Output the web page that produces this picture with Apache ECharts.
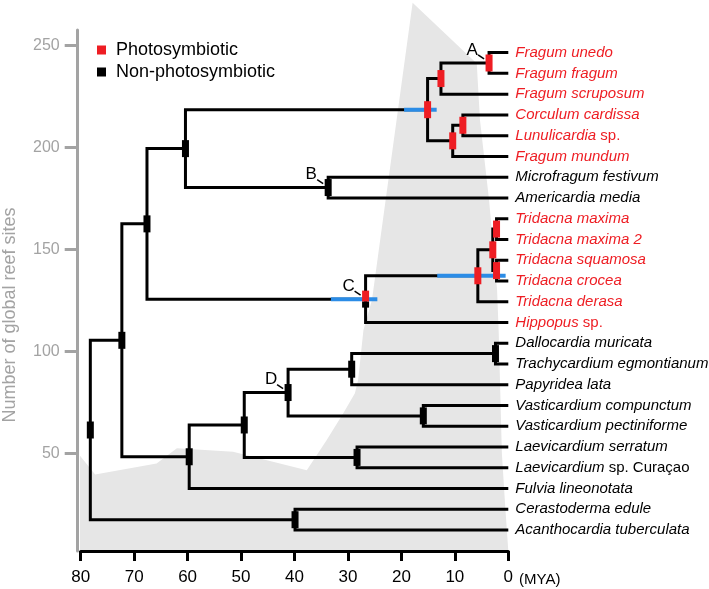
<!DOCTYPE html>
<html><head><meta charset="utf-8">
<script src="https://cdn.jsdelivr.net/npm/echarts@6/dist/echarts.min.js"></script>
<style>html,body{margin:0;padding:0;background:#fff}#c{width:709px;height:589px}</style>
</head><body><div id="c"></div>
<script>
// ---------- data ----------
const tipNames = ['Fragum unedo','Fragum fragum','Fragum scruposum','Corculum cardissa','Lunulicardia','Fragum mundum',
  'Microfragum festivum','Americardia media','Tridacna maxima','Tridacna maxima 2','Tridacna squamosa','Tridacna crocea',
  'Tridacna derasa','Hippopus','Dallocardia muricata','Trachycardium egmontianum','Papyridea lata','Vasticardium compunctum',
  'Vasticardium pectiniforme','Laevicardium serratum','Laevicardium','Fulvia lineonotata','Cerastoderma edule','Acanthocardia tuberculata'];
const tipQualifiers = ['','','','',' sp.','','','','','','','','',' sp.','','','','','','',' sp. Curaçao','','',''];
const tipPhotosymbiotic = [1,1,1,1,1,1,0,0,1,1,1,1,1,1,0,0,0,0,0,0,0,0,0,0];

const nodeIds    = ['root','N1','N2','N3','F','F1','A','F2','F3','B','C','T','T1','T2','T3','Nf','N49','D','D1','D2','V','L','E'];
const nodeAges   = [78.2, 72.3, 67.6, 60.4, 15.1, 12.6, 3.6, 10.4, 8.5, 33.7, 26.7, 5.7, 2.9, 2.2, 2.2, 59.7, 49.4, 41.2, 29.3, 2.4, 15.9, 28.3, 39.9];
const nodeChildA = ['N1','N2','N3','F','F1','A',0,'F3',3,6,'T','T1','T2',8,10,'N49','D','D1','D2',14,17,19,22];
const nodeChildB = ['E','Nf','C','B','F2',2,1,5,4,7,13,12,'T3',9,11,21,'L','V',16,15,18,20,23];
const nodePhotosymbiotic = [0,0,0,0,1,1,1,1,1,0,0.65,1,1,1,1,0,0,0,0,0,0,0,0];

const ciNodes = ['F','C','T'];
const ciOldest = [19.5, 33.2, 13.3];
const ciYoungest = [13.4, 24.5, 0.5];

const letterNodes = ['A','B','C','D'];

const reefAge   = [80.5, 77.3, 65.8, 62.0, 51.5, 37.7, 34.0, 30.9, 28.7, 28.1, 27.1, 26.2, 25.5, 20.9, 17.9, 5.9, 5.3, 3.6, 2.1, 1.8, 1.5, 1.2, 0.6, 0];
const reefSites = [50, 39.7, 45.1, 52.5, 50.8, 41.8, 56.5, 69.6, 79.5, 85.9, 110.4, 118.6, 125.3, 213.3, 270.7, 241.0, 213.3, 174.1, 130.0, 110.0, 80, 50, 25, 2.2];

const xTicks = [80,70,60,50,40,30,20,10,0];
const yTicks = [50,100,150,200,250];

// ---------- styles ----------
const FONT = 'Liberation Sans, Arial, Helvetica, sans-serif';
const RED = '#ee1d23', BLUE = '#2b8ce6', GRAYAXIS = '#a3a3a3', AREA = '#e6e6e6';

// ---------- tree layout ----------
const nodeY = {};
function childY(c){ return typeof c === 'number' ? c : layout(c); }
function childAge(c){ return typeof c === 'number' ? 0 : nodeAges[nodeIds.indexOf(c)]; }
function layout(id){
  const i = nodeIds.indexOf(id);
  nodeY[id] = (childY(nodeChildA[i]) + childY(nodeChildB[i])) / 2;
  return nodeY[id];
}
layout('root');

const bracketData = nodeIds.map((id,i)=>[nodeAges[i], childY(nodeChildA[i]), childY(nodeChildB[i]), childAge(nodeChildA[i]), childAge(nodeChildB[i])]);
const photoIdx = [], nonIdx = [];
nodeIds.forEach((id,i)=>{ (nodePhotosymbiotic[i] > 0 ? photoIdx : nonIdx).push(i); });
const photoData = photoIdx.map(i=>[nodeAges[i], nodeY[nodeIds[i]], nodePhotosymbiotic[i]]);
const nonData = nonIdx.map(i=>[nodeAges[i], nodeY[nodeIds[i]], 0]);
const ciData = ciNodes.map((id,k)=>[ciOldest[k], nodeY[id], ciYoungest[k]]);
const letterData = letterNodes.map(id=>[nodeAges[nodeIds.indexOf(id)], nodeY[id]]);
const tipData = tipNames.map((n,i)=>[0, i]);

function markerItem(params, api){
  const p = api.coord([api.value(0), api.value(1)]);
  const f = api.value(2);
  const w = 7, h = 17;
  const ch = [];
  if (f > 0) ch.push({type:'rect', shape:{x:p[0]-w/2, y:p[1]-h/2, width:w, height:h*f}, style:{fill:RED}});
  if (f < 1) ch.push({type:'rect', shape:{x:p[0]-w/2, y:p[1]-h/2+h*f, width:w, height:h*(1-f)}, style:{fill:'#000'}});
  return {type:'group', children: ch};
}

const chart = echarts.init(document.getElementById('c'));
chart.setOption({
  animation: false,
  grid: {left: 80.7, right: 200.7, top: 30, bottom: 38},
  legend: {
    orient: 'vertical', left: 92, top: 36, itemWidth: 9, itemHeight: 9, itemGap: 4,
    selectedMode: false,
    textStyle: {fontSize: 18, color: '#000', fontFamily: FONT, padding: [0,0,0,5]},
    data: [
      {name: 'Photosymbiotic', icon: 'rect', itemStyle: {color: RED}},
      {name: 'Non-photosymbiotic', icon: 'rect', itemStyle: {color: '#000'}}
    ]
  },
  xAxis: {
    type: 'value', min: 0, max: 80, interval: 10, inverse: true, position: 'bottom',
    axisLine: {show: true, onZero: false, lineStyle: {color: '#000', width: 3}},
    axisTick: {show: true, length: 10, lineStyle: {color: '#000', width: 3}},
    axisLabel: {fontSize: 17, color: '#000', fontFamily: FONT, margin: 18,
      customValues: xTicks},
    splitLine: {show: false}
  },
  yAxis: [{
    type: 'value', min: 2.2, max: 257.4, position: 'left', offset: 3,
    axisLine: {show: true, onZero: false, lineStyle: {color: GRAYAXIS, width: 3}},
    axisTick: {show: true, length: 13, lineStyle: {color: GRAYAXIS, width: 3}, customValues: yTicks},
    axisLabel: {fontSize: 16, color: GRAYAXIS, fontFamily: FONT, margin: 18, customValues: yTicks},
    splitLine: {show: false}
  }, {
    type: 'value', min: -1.089, max: 24.008, inverse: true, show: false,
    axisLine: {onZero: false}
  }],
  graphic: [
    {type: 'text', x: 10, y: 315, rotation: Math.PI/2, silent: true,
     style: {text: 'Number of global reef sites', fill: GRAYAXIS, fontSize: 18, fontFamily: FONT, align: 'center', verticalAlign: 'middle'}},
    {type: 'text', x: 519, y: 580, silent: true,
     style: {text: '(MYA)', fill: '#000', fontSize: 15, fontFamily: FONT, align: 'left', verticalAlign: 'middle'}}
  ],
  series: [
    {
      type: 'line', name: 'reef', data: reefAge.map((a,i)=>[a, reefSites[i]]),
      xAxisIndex: 0, yAxisIndex: 0, symbol: 'none', clip: false, silent: true, z: -1,
      lineStyle: {width: 0}, areaStyle: {color: AREA, opacity: 1, origin: 'start'}
    },
    {
      type: 'custom', name: 'tree', xAxisIndex: 0, yAxisIndex: 1, data: bracketData, z: 2, silent: true, clip: false,
      renderItem: (params, api) => {
        const a = api.coord([api.value(3), api.value(1)]);
        const b = api.coord([api.value(0), api.value(1)]);
        const c = api.coord([api.value(0), api.value(2)]);
        const d = api.coord([api.value(4), api.value(2)]);
        return {type: 'polyline', shape: {points: [a,b,c,d]}, style: {stroke: '#000', lineWidth: 3, fill: null, lineJoin: 'miter', lineCap: 'butt'}};
      }
    },
    {
      type: 'custom', name: 'ci', xAxisIndex: 0, yAxisIndex: 1, data: ciData, z: 3, silent: true, clip: false,
      renderItem: (params, api) => {
        const a = api.coord([api.value(0), api.value(1)]);
        const b = api.coord([api.value(2), api.value(1)]);
        return {type: 'line', shape: {x1: a[0], y1: a[1], x2: b[0], y2: b[1]}, style: {stroke: BLUE, lineWidth: 4}};
      }
    },
    {
      type: 'custom', name: 'Photosymbiotic', xAxisIndex: 0, yAxisIndex: 1, data: photoData, z: 4, silent: true, clip: false,
      itemStyle: {color: RED}, renderItem: markerItem
    },
    {
      type: 'custom', name: 'Non-photosymbiotic', xAxisIndex: 0, yAxisIndex: 1, data: nonData, z: 4, silent: true, clip: false,
      itemStyle: {color: '#000'}, renderItem: markerItem
    },
    {
      type: 'custom', name: 'letters', xAxisIndex: 0, yAxisIndex: 1, data: letterData, z: 5, silent: true, clip: false,
      renderItem: (params, api) => {
        const p = api.coord([api.value(0), api.value(1)]);
        return {type: 'group', children: [
          {type: 'text', style: {text: letterNodes[params.dataIndex], x: p[0]-17, y: p[1]-13, fill: '#000', fontSize: 17, fontFamily: FONT, align: 'center', verticalAlign: 'middle'}},
          {type: 'line', shape: {x1: p[0]-11, y1: p[1]-8, x2: p[0]-5, y2: p[1]-4}, style: {stroke: '#000', lineWidth: 1.5}}
        ]};
      }
    },
    {
      type: 'custom', name: 'tips', xAxisIndex: 0, yAxisIndex: 1, data: tipData, z: 5, silent: true, clip: false,
      renderItem: (params, api) => {
        const i = params.dataIndex;
        const p = api.coord([api.value(0), api.value(1)]);
        const col = tipPhotosymbiotic[i] ? RED : '#000';
        let txt = '{i|' + tipNames[i] + '}';
        if (tipQualifiers[i]) txt += '{p|' + tipQualifiers[i] + '}';
        return {type: 'text', style: {
          text: txt, x: p[0] + 7, y: p[1], align: 'left', verticalAlign: 'middle',
          rich: {
            i: {fill: col, fontSize: 15, fontStyle: 'italic', fontFamily: FONT},
            p: {fill: col, fontSize: 15, fontStyle: 'normal', fontFamily: FONT}
          }
        }};
      }
    }
  ]
});
</script></body></html>
